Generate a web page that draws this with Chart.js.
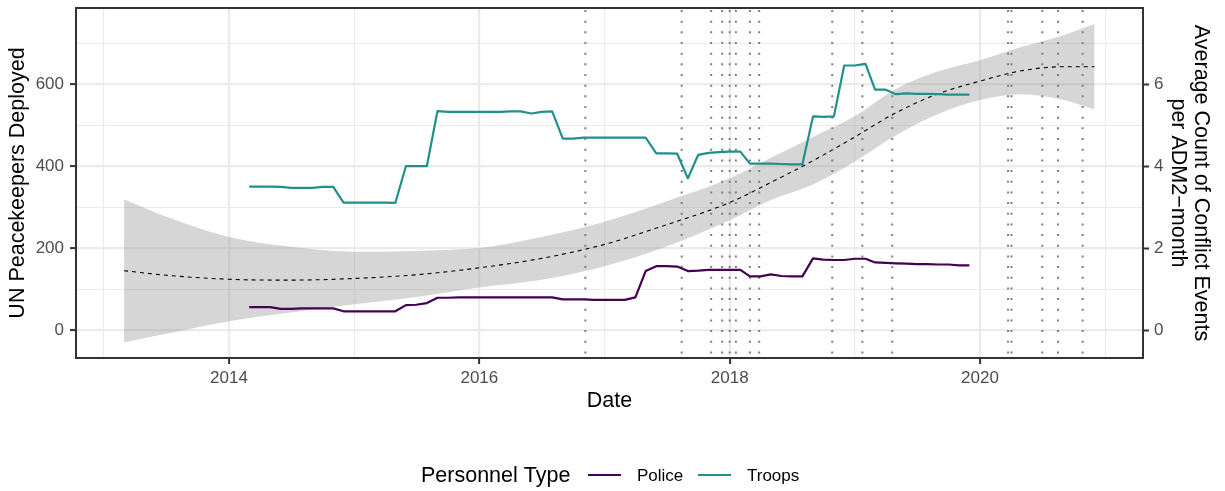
<!DOCTYPE html>
<html><head><meta charset="utf-8">
<script src="https://cdn.jsdelivr.net/npm/chart.js@4.4.0/dist/chart.umd.min.js"></script>
<style>html,body{margin:0;padding:0;background:#fff;}canvas{display:block}</style>
</head><body>
<canvas id="c" width="1225" height="491"></canvas>
<script>
// ---- data ----
const months = ["2014-03","2014-04","2014-05","2014-06","2014-07","2014-08","2014-09","2014-10","2014-11","2014-12",
"2015-01","2015-02","2015-03","2015-04","2015-05","2015-06","2015-07","2015-08","2015-09","2015-10","2015-11","2015-12",
"2016-01","2016-02","2016-03","2016-04","2016-05","2016-06","2016-07","2016-08","2016-09","2016-10","2016-11","2016-12",
"2017-01","2017-02","2017-03","2017-04","2017-05","2017-06","2017-07","2017-08","2017-09","2017-10","2017-11","2017-12",
"2018-01","2018-02","2018-03","2018-04","2018-05","2018-06","2018-07","2018-08","2018-09","2018-10","2018-11","2018-12",
"2019-01","2019-02","2019-03","2019-04","2019-05","2019-06","2019-07","2019-08","2019-09","2019-10","2019-11","2019-12"];
const troops = [351,351,351,350,348,348,348,350,350,312,
312,312,312,312,311,401,401,401,535,533,533,533,
533,533,533,534,534,529,533,534,468,468,470,470,
470,470,470,470,470,432,432,431,371,428,433,435,
436,436,407,407,407,406,405,405,522,521,522,646,
646,650,587,587,576,578,577,577,576,575,575,575];
const police = [57,57,57,53,53,54,54,54,54,47,
47,47,47,47,47,62,63,67,80,80,81,81,
81,81,81,81,81,81,81,81,76,76,76,75,
75,75,75,81,145,157,157,156,145,146,148,148,
148,148,132,132,137,133,132,132,176,173,172,172,
175,175,166,165,164,163,162,162,161,161,159,159];
const smoothDates = ["2013-03","2013-07","2014-01","2014-07","2015-01","2015-07","2016-01","2016-07","2017-01","2017-07",
"2018-01","2018-05","2018-09","2019-01","2019-05","2019-09","2020-01","2020-05","2020-09","2020-12"];
const smoothFit   = [1.46,1.35,1.25,1.23,1.27,1.36,1.53,1.76,2.10,2.58,3.12,3.61,4.14,4.72,5.31,5.77,6.08,6.33,6.43,6.43];
const smoothUpper = [3.20,2.78,2.28,2.04,1.92,1.94,2.01,2.28,2.65,3.15,3.71,4.21,4.72,5.23,5.89,6.32,6.59,6.91,7.20,7.47];
const smoothLower = [-0.29,-0.08,0.23,0.44,0.64,0.82,1.05,1.24,1.57,2.05,2.69,3.18,3.56,4.12,4.76,5.28,5.62,5.76,5.62,5.39];
const eventDates = ["2016-11-06","2017-08-14","2017-11-08","2017-12-10","2018-01-01","2018-01-19","2018-03-01","2018-03-28",
"2018-10-27","2019-01-23","2019-04-20","2020-03-23","2020-04-02","2020-07-01","2020-08-16","2020-10-27"];
const xTickYears = [2013,2014,2015,2016,2017,2018,2019,2020,2021];
const leftTicks = [0,100,200,300,400,500,600,700];
const rightTicks = [0,2,4,6];
const seriesNames = ["Police","Troops"];
const seriesColors = ["#440154","#21908C"];
const legendTitle = "Personnel Type";
const xTitle = "Date";
const yTitle = "UN Peacekeepers Deployed";
const y2Title = ["Average Count of Conflict Events","per ADM2\u2212month"];

// ---- helpers ----
function toYear(s){
  const p = s.split('-').map(Number);
  const y = p[0], m = p[1], d = p[2] || 1;
  const t0 = Date.UTC(y,0,1), t1 = Date.UTC(y+1,0,1), t = Date.UTC(y,m-1,d);
  return y + (t - t0)/(t1 - t0);
}
const FONT = '"Liberation Sans", Arial, sans-serif';
const Y_MIN = -66.8, Y_MAX = 786.1;
const pts = (dates, vals) => dates.map((d,i)=>({x: toYear(d), y: vals[i]}));

const datasets = [
  {label: seriesNames[0], data: pts(months, police), borderColor: seriesColors[0], borderWidth: 2.2, pointRadius: 0, yAxisID: 'y', order: 0, borderJoinStyle: 'round', fill: false},
  {label: seriesNames[1], data: pts(months, troops), borderColor: seriesColors[1], borderWidth: 2.2, pointRadius: 0, yAxisID: 'y', order: 0, borderJoinStyle: 'round', fill: false},
  {label: 'upper', data: pts(smoothDates, smoothUpper), borderWidth: 0, borderColor: 'rgba(0,0,0,0)', backgroundColor: 'rgba(153,153,153,0.4)', pointRadius: 0, yAxisID: 'y2', cubicInterpolationMode: 'monotone', fill: '+1', order: 5},
  {label: 'lower', data: pts(smoothDates, smoothLower), borderWidth: 0, borderColor: 'rgba(0,0,0,0)', pointRadius: 0, yAxisID: 'y2', cubicInterpolationMode: 'monotone', fill: false, order: 5},
  {label: 'fit', data: pts(smoothDates, smoothFit), borderWidth: 1.1, borderColor: '#000', borderDash: [4,4], pointRadius: 0, yAxisID: 'y2', cubicInterpolationMode: 'monotone', fill: false, order: 3}
];
eventDates.forEach(d => {
  const x = toYear(d);
  datasets.push({label: 'event', data: [{x, y: Y_MAX},{x, y: Y_MIN}], borderColor: '#7f7f7f', borderWidth: 2, borderDash: [2, 8.67], borderDashOffset: -2, borderCapStyle: 'butt', pointRadius: 0, yAxisID: 'y', fill: false, order: 2});
});

const ggPlugin = {
  id: 'gg',
  afterDraw(chart){
    const ctx = chart.ctx, a = chart.chartArea;
    ctx.save();
    ctx.strokeStyle = '#333333';
    ctx.lineWidth = 2;
    ctx.strokeRect(a.left, a.top, a.right - a.left, a.bottom - a.top);
    // legend
    ctx.textBaseline = 'middle';
    ctx.textAlign = 'left';
    ctx.fillStyle = '#000';
    ctx.font = '21.5px ' + FONT;
    ctx.fillText(legendTitle, 421, 476);
    const keys = [[588, 637],[698, 747]];
    seriesNames.forEach((n,i) => {
      ctx.strokeStyle = seriesColors[i];
      ctx.lineWidth = 2.2;
      ctx.beginPath(); ctx.moveTo(keys[i][0], 475); ctx.lineTo(keys[i][0] + 33, 475); ctx.stroke();
      ctx.font = '17px ' + FONT;
      ctx.fillText(n, keys[i][1], 476);
    });
    ctx.restore();
  }
};

const noPadV = s => { s.paddingTop = 0; s.paddingBottom = 0; };

new Chart(document.getElementById('c'), {
  type: 'line',
  data: {datasets},
  plugins: [ggPlugin],
  options: {
    responsive: false, animation: false, devicePixelRatio: 1,
    layout: {padding: {top: 8, left: 0, right: 0, bottom: 0}, autoPadding: false},
    plugins: {legend: {display: false}, tooltip: {enabled: false}},
    elements: {line: {tension: 0}},
    scales: {
      x: {
        type: 'linear', min: 2012.7777, max: 2021.302,
        afterBuildTicks: s => { s.ticks = xTickYears.map(v => ({value: v})); },
        afterFit: s => { s.height = 133; s.paddingLeft = 0; s.paddingRight = 0; },
        border: {display: false},
        grid: {
          color: '#EBEBEB',
          lineWidth: c => (c.tick && c.tick.value % 2 === 0) ? 2.2 : 1.1,
          tickColor: c => (c.tick && c.tick.value % 2 === 0) ? '#333333' : 'rgba(0,0,0,0)',
          tickWidth: 2, tickLength: 6, drawTicks: true
        },
        ticks: {autoSkip: false, maxRotation: 0, padding: 4, color: '#4D4D4D', font: {family: FONT, size: 17},
          callback: v => (v % 2 === 0) ? String(v) : ''},
        title: {display: true, text: xTitle, color: '#000', font: {family: FONT, size: 21.5}, padding: {top: 0, bottom: 77}}
      },
      y: {
        type: 'linear', position: 'left', min: Y_MIN, max: Y_MAX,
        afterBuildTicks: s => { s.ticks = leftTicks.map(v => ({value: v})); },
        afterFit: s => { s.width = 76; noPadV(s); },
        border: {display: false},
        grid: {
          color: '#EBEBEB',
          lineWidth: c => (c.tick && c.tick.value % 200 === 0) ? 2.2 : 1.1,
          tickColor: c => (c.tick && c.tick.value % 200 === 0) ? '#333333' : 'rgba(0,0,0,0)',
          tickWidth: 2, tickLength: 6, drawTicks: true
        },
        ticks: {padding: 6, color: '#4D4D4D', font: {family: FONT, size: 17},
          callback: v => (v % 200 === 0) ? String(v) : ''},
        title: {display: true, text: yTitle, color: '#000', font: {family: FONT, size: 21.5}, padding: {top: 5, bottom: 0}}
      },
      y2: {
        type: 'linear', position: 'right', min: Y_MIN / 100, max: Y_MAX / 100,
        afterBuildTicks: s => { s.ticks = rightTicks.map(v => ({value: v})); },
        afterFit: s => { s.width = 82; noPadV(s); },
        border: {display: false},
        grid: {drawOnChartArea: false, drawTicks: true, tickColor: '#333333', tickWidth: 2, tickLength: 6, color: 'rgba(0,0,0,0)'},
        ticks: {padding: 5, color: '#4D4D4D', font: {family: FONT, size: 17}, callback: v => String(v)},
        title: {display: true, text: y2Title, color: '#000', font: {family: FONT, size: 21.5, lineHeight: 1.07}, padding: {top: 12.5, bottom: 0}}
      }
    }
  }
});
</script>
</body></html>
